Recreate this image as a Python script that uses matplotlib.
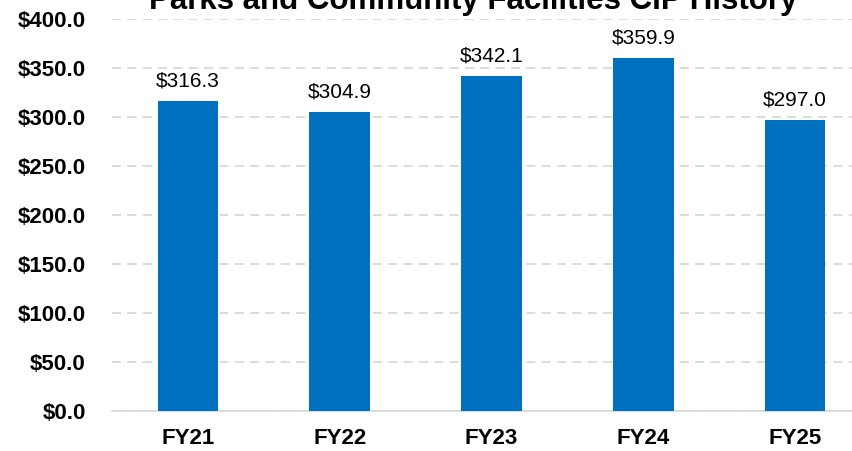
import matplotlib.pyplot as plt

years = ["FY21", "FY22", "FY23", "FY24", "FY25"]
cip_totals = [316.3, 304.9, 342.1, 359.9, 297.0]
y_ticks = [0, 50, 100, 150, 200, 250, 300, 350, 400]

plt.rcParams["font.family"] = ["Liberation Sans", "DejaVu Sans"]

W, H = 852, 451
fig = plt.figure(figsize=(W / 100, H / 100), dpi=100)
# the original is cropped on the right, so the axes run past the figure edge
left, right, bottom, top = 112, 871, 411, 19
ax = fig.add_axes([left / W, 1 - bottom / H, (right - left) / W, (bottom - top) / H])

x = list(range(len(years)))
bars = ax.bar(x, cip_totals, width=0.4, color="#0070C0", zorder=3)

for xi, val in zip(x, cip_totals):
    ax.annotate(f"${val:.1f}", (xi, val), xytext=(0, 10.5), textcoords="offset points",
                ha="center", va="baseline", fontsize=15, color="#000000")

ax.set_xlim(-0.5, len(years) - 0.5)
ax.set_ylim(0, 400)
ax.set_yticks(y_ticks)
ax.set_yticklabels([f"${v:.1f}" for v in y_ticks], fontsize=16, fontweight="bold")
ax.set_xticks(x)
ax.set_xticklabels(years, fontsize=16, fontweight="bold")
ax.tick_params(axis="y", length=0, pad=19)
ax.tick_params(axis="x", length=0, pad=12)

ax.yaxis.grid(True, color="#d9d9d9", linestyle=(0, (5, 3.5)), linewidth=1.3, zorder=0)
for s in ["top", "right", "left"]:
    ax.spines[s].set_visible(False)
ax.spines["bottom"].set_color("#d9d9d9")
ax.spines["bottom"].set_linewidth(1.3)

# title is partly cut off at the top in the original
fig.text(473 / W, 1 - 9.5 / H, "Parks and Community Facilities CIP History",
         ha="center", va="baseline", fontsize=22.5, fontweight="bold")

fig.savefig("out.png", dpi=100)
